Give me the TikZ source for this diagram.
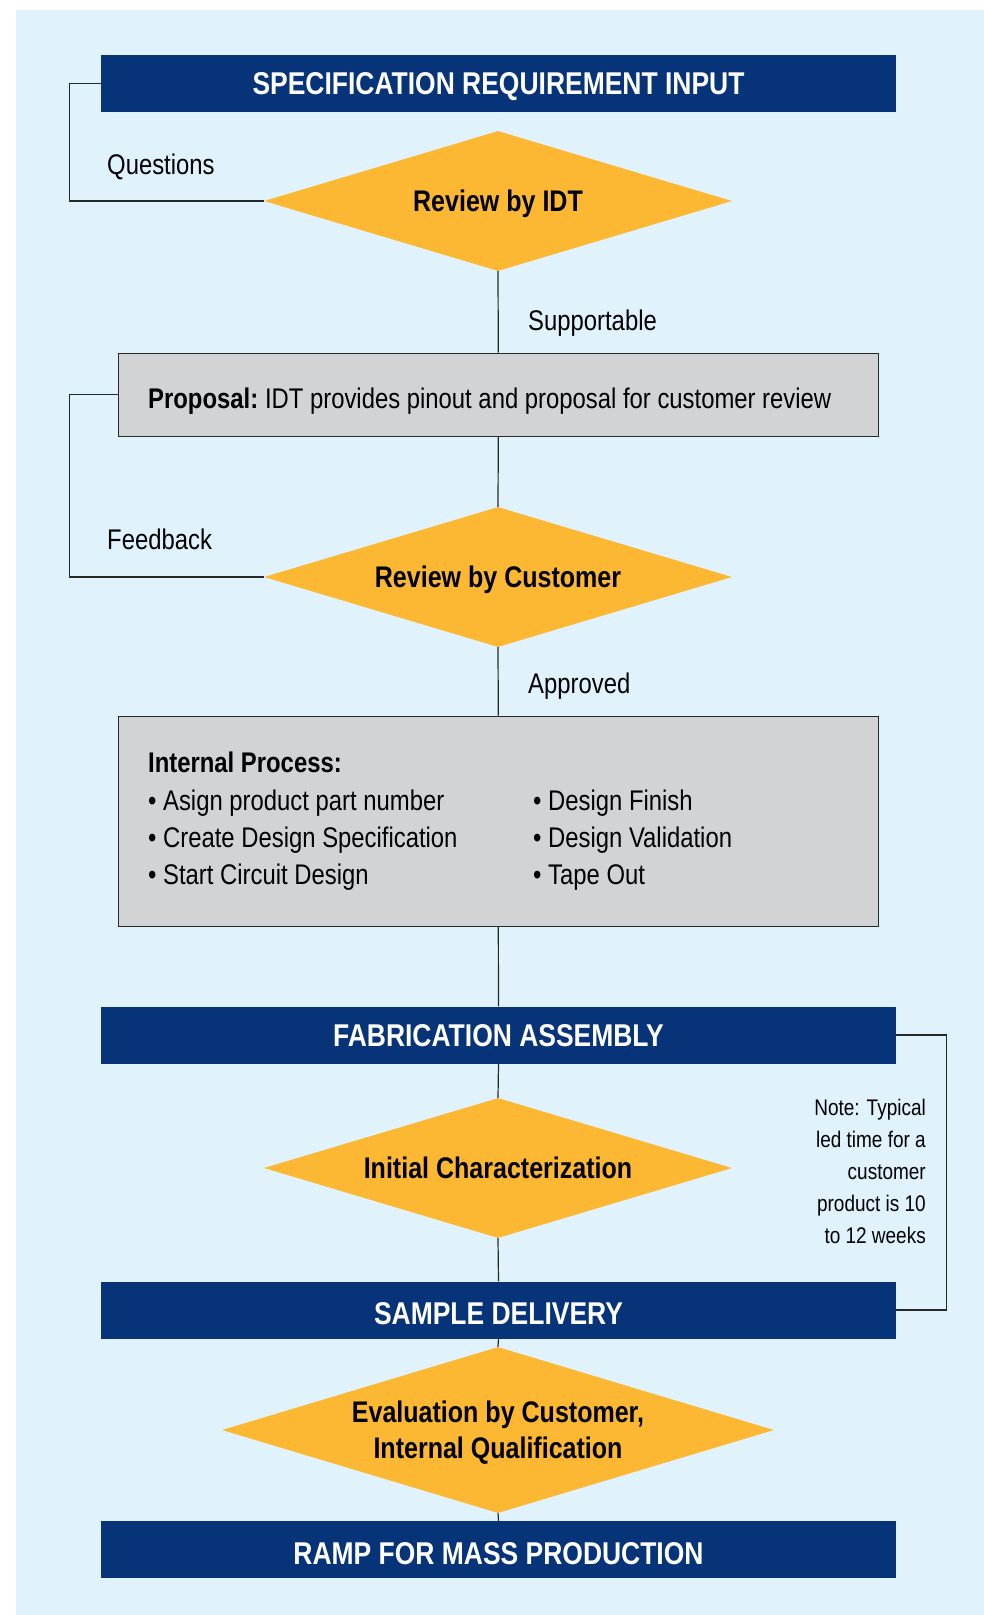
\documentclass[tikz,border=0pt]{standalone}
\usepackage{fontspec}
\setmainfont{Liberation Sans}[FakeStretch=0.84]
\usetikzlibrary{shapes.geometric}
\definecolor{bgblue}{RGB}{224,242,252}
\definecolor{navy}{RGB}{7,52,120}
\definecolor{amber}{RGB}{253,184,51}
\definecolor{boxgrey}{RGB}{210,211,213}
\definecolor{linegrey}{RGB}{40,40,40}
\begin{document}
\begin{tikzpicture}[x=1pt,y=-1pt,
 header/.style={rectangle, fill=navy, text=white, minimum width=795pt, minimum height=57pt, inner sep=0pt, font=\bfseries\fontsize{31.5}{36}\selectfont, text height=22.5pt, text depth=0pt},
 decision/.style={diamond, aspect=3.3, fill=amber, inner sep=0pt, minimum width=468pt, minimum height=140pt, font=\bfseries\fontsize{29.8}{36}\selectfont, align=center},
 infobox/.style={rectangle, fill=boxgrey, draw=linegrey, line width=1pt, minimum width=759.5pt, inner sep=0pt},
 lbl/.style={font=\fontsize{28.4}{34}\selectfont, inner sep=0pt, anchor=base west},
 conn/.style={draw=linegrey, line width=1.2pt}]
\useasboundingbox (0,0) rectangle (984,1615);
\fill[bgblue] (16,10) rectangle (984,1615);

\node[header] (h1) at (498.5,83.5) {SPECIFICATION REQUIREMENT INPUT};
\node[decision, text height=21.3pt, text depth=0pt] (d1) at (498,201) {Review by IDT};
\node[infobox, minimum height=83pt] (prop) at (498.3,394.5) {};
\node[lbl] (proptext) at (148,408) {\textbf{Proposal:}\hspace{-2pt} IDT provides pinout and proposal for customer review};
\node[decision, text height=21.3pt, text depth=0pt] (d2) at (498,577) {Review by Customer};
\node[infobox, minimum height=210pt] (int) at (498.3,821) {};
\node[lbl] (inttitle) at (148,772) {\textbf{Internal Process:}};
\node[lbl] (b1) at (148,810) {• Asign product part number};
\node[lbl] (b2) at (148,847) {• Create Design Specification};
\node[lbl] (b3) at (148,884) {• Start Circuit Design};
\node[lbl] (b4) at (533,810) {• Design Finish};
\node[lbl] (b5) at (533,847) {• Design Validation};
\node[lbl] (b6) at (533,884) {• Tape Out};
\node[header] (h2) at (498.5,1035) {FABRICATION ASSEMBLY};
\node[decision, text height=21.3pt, text depth=0pt] (d3) at (498,1168) {Initial Characterization};
\node[header, text height=29.5pt] (h3) at (498.5,1310) {SAMPLE DELIVERY};
\node[decision, minimum width=552pt, minimum height=166pt, text depth=0pt] (d4) at (498,1430) {Evaluation by Customer,\\Internal Qualification};
\node[header, text height=29.5pt] (h4) at (498.5,1549.5) {RAMP FOR MASS PRODUCTION};

\node[lbl] (lq) at (107,174) {Questions};
\node[lbl] (ls) at (528,330) {Supportable};
\node[lbl] (lf) at (107,549) {Feedback};
\node[lbl] (la) at (528,693) {Approved};
\node[font=\fontsize{22.6}{32}\selectfont, align=right, anchor=east, inner sep=0pt] (note) at (926,1171.75) {Note: Typical\\led time for a\\customer\\product is 10\\to 12 weeks};

\draw[conn] (h1.west) -- ++(-31,0) |- (d1.west);
\draw[conn] (prop.west) -- ++(-48.5,0) |- (d2.west);
\draw[conn] (d1.south) -- (prop.north);
\draw[conn] (prop.south) -- (d2.north);
\draw[conn] (d2.south) -- (int.north);
\draw[conn] (int.south) -- (h2.north);
\draw[conn] (h2.south) -- (d3.north);
\draw[conn] (d3.south) -- (h3.north);
\draw[conn] (h3.south) -- (d4.north);
\draw[conn] (d4.south) -- (h4.north);
\draw[conn] (h2.east) -- ++(50,0) |- (h3.east);
\end{tikzpicture}
\end{document}
